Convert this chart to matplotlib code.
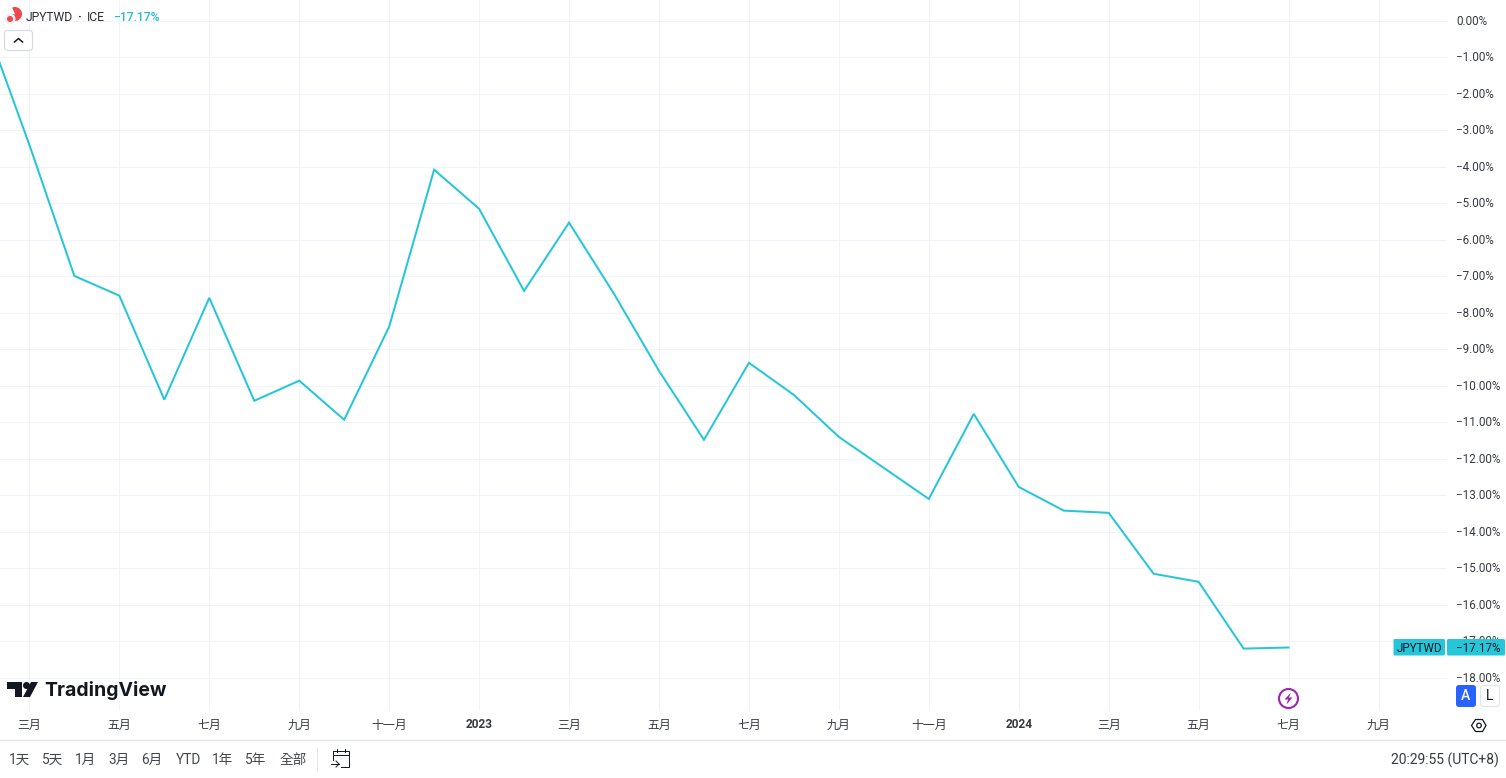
import matplotlib
matplotlib.use('Agg')
import matplotlib.pyplot as plt
from matplotlib.patches import Circle, FancyBboxPatch, Polygon, Wedge

plt.rcParams['font.family'] = ['Roboto', 'Noto Sans CJK TC', 'DejaVu Sans']

# monthly change, feb 2022 to jul 2024 (month 0 = mar 2022)
months = list(range(-1, 29))
change = [0.00, -3.40, -6.99, -7.53, -10.38, -7.59, -10.41, -9.86, -10.93, -8.38,
          -4.08, -5.15, -7.40, -5.53, -7.48, -9.59, -11.48, -9.37, -10.25, -11.40,
          -12.25, -13.10, -10.77, -12.77, -13.42, -13.48, -15.15, -15.37, -17.20, -17.17]

x_ticks = [0, 2, 4, 6, 8, 10, 12, 14, 16, 18, 20, 22, 24, 26, 28, 30]
x_labels = ['三月', '五月', '七月', '九月', '十一月', '2023', '三月', '五月', '七月', '九月',
            '十一月', '2024', '三月', '五月', '七月', '九月']
y_ticks = list(range(0, -19, -1))
range_buttons = ['1天', '5天', '1月', '3月', '6月', 'YTD', '1年', '5年', '全部']
button_x = [20, 53, 86, 119, 152, 188, 223, 256, 293]

LINE = '#26c6da'
TEXT = '#131722'
GRID = '#f0f3fa'
W, H = 1506, 778

fig = plt.figure(figsize=(W / 100, H / 100), dpi=100, facecolor='white')

# chart pane, 0..1447 px wide and 0..710 px high
ax = fig.add_axes([0, 1 - 710 / H, 1447 / W, 710 / H])
px_month = 44.97
px_pct = 36.5
ax.set_xlim(-29.4 / px_month, (1447 - 29.4) / px_month)
ax.set_ylim(-(710 - 20.8) / px_pct, 20.8 / px_pct)
for s in ax.spines.values():
    s.set_visible(False)
ax.set_xticks(x_ticks)
ax.set_yticks(y_ticks)
ax.tick_params(length=0, labelleft=False, labelbottom=False)
ax.grid(color=GRID, linewidth=0.72)
ax.set_axisbelow(True)
ax.plot(months, change, color=LINE, linewidth=1.45, solid_joinstyle='miter')

# overlay in pixel coordinates for the tradingview chrome
ui = fig.add_axes([0, 0, 1, 1], facecolor='none')
ui.set_xlim(0, W)
ui.set_ylim(H, 0)
ui.axis('off')

to_px = lambda v: 20.8 - v * px_pct
for v in y_ticks:
    label = '0.00%' if v == 0 else '\u2212%d.00%%' % abs(v)
    ui.text(1456.5, to_px(v) + 0.6, label, ha='left', va='center', fontsize=8.4, color=TEXT, alpha=0.85, zorder=2)

# axis labels along the bottom
for m, lab in zip(x_ticks, x_labels):
    bold = lab in ('2023', '2024')
    ui.text(29.4 + m * px_month, 725, lab, ha='center', va='center', fontsize=8.6, color=TEXT,
            alpha=0.85, fontweight='bold' if bold else 'normal')

# last value tags
ui.add_patch(FancyBboxPatch((1393.5, 639), 51.5, 16.5, boxstyle='round,pad=0,rounding_size=1.5', fc=LINE, ec='none', zorder=4))
ui.add_patch(FancyBboxPatch((1447, 639), 58, 16.5, boxstyle='round,pad=0,rounding_size=1.5', fc=LINE, ec='none', zorder=4))
ui.text(1419.5, 648, 'JPYTWD', ha='center', va='center', fontsize=8.4, color=TEXT, zorder=5)
ui.text(1456.5, 648, '\u2212%.2f%%' % abs(change[-1]), ha='left', va='center', fontsize=8.4, color=TEXT, zorder=5)

# legend at top left
ui.add_patch(Wedge((15, 14), 7, -115, 125, fc='#f0484f', ec='none'))
ui.add_patch(Wedge((15, 14), 7, 125, 180, fc='#5b8fd8', ec='none'))
ui.add_patch(Circle((10, 19), 5.5, fc='#eef0f6', ec='none'))
ui.add_patch(Circle((10, 19), 3, fc='#f0484f', ec='none'))
ui.text(26, 17, 'JPYTWD', ha='left', va='center', fontsize=8.7, color=TEXT, alpha=0.9)
ui.text(79, 17, '·', ha='center', va='center', fontsize=9, color=TEXT, alpha=0.9, fontweight='bold')
ui.text(87, 17, 'ICE', ha='left', va='center', fontsize=8.7, color=TEXT, alpha=0.9)
ui.text(113, 17, '\u2212%.2f%%' % abs(change[-1]), ha='left', va='center', fontsize=8.7, color='#1fbfd3', fontweight='medium')
ui.add_patch(FancyBboxPatch((4.5, 30.5), 28, 20, boxstyle='round,pad=0,rounding_size=3', fc='white', ec='#d6d8e4', lw=0.8))
ui.plot([14.5, 18.5, 22.5], [42, 38.5, 42], color=TEXT, lw=1.1)

# logo
ui.add_patch(Polygon([(7, 682), (22, 682), (22, 697), (15, 697), (15, 689), (7, 689)], fc=TEXT, ec='none'))
ui.add_patch(Circle((26.5, 685.5), 3.5, fc=TEXT, ec='none'))
ui.add_patch(Polygon([(31, 682), (38, 682), (30, 697), (23, 697)], fc=TEXT, ec='none'))
ui.text(44, 690, 'TradingView', ha='left', va='center', fontsize=14, color=TEXT, family=['Inter', 'DejaVu Sans'], fontweight='bold')

# lightning marker at jul 2024
ui.add_patch(Circle((1288.5, 698.5), 9.5, fc='white', ec='#9c27b0', lw=1.5))
ui.add_patch(Polygon([(1291, 692.5), (1284.5, 699.5), (1288, 699.5), (1286.5, 704.5), (1292.5, 697.5), (1289, 697.5)], fc='#9c27b0', ec='none'))

# A / L buttons
ui.add_patch(FancyBboxPatch((1456, 685), 20, 22, boxstyle='round,pad=0,rounding_size=3', fc='#2962ff', ec='none', zorder=4))
ui.add_patch(FancyBboxPatch((1480.5, 685.5), 19, 21, boxstyle='round,pad=0,rounding_size=3', fc='white', ec='#e0e3eb', lw=0.8, zorder=4))
ui.text(1466, 696.5, 'A', ha='center', va='center', fontsize=10, color='white', fontweight='medium', zorder=5)
ui.text(1490, 696.5, 'L', ha='center', va='center', fontsize=10, color=TEXT, zorder=5)

# settings icon
ui.add_patch(Polygon([(1471.5, 725.5), (1475.5, 719.5), (1482.5, 719.5), (1486, 725.5), (1482.5, 731.5), (1475.5, 731.5)],
                     fc='white', ec=TEXT, lw=0.9))
ui.add_patch(Circle((1479, 725.5), 2.3, fc='white', ec=TEXT, lw=0.9))

# bottom toolbar
ui.plot([0, W], [739.5, 739.5], color='#e0e3eb', lw=0.9)
for bx, lab in zip(button_x, range_buttons):
    ui.text(bx, 760, lab, ha='center', va='center', fontsize=9.8, color=TEXT, alpha=0.8)
ui.plot([317.5, 317.5], [748, 770], color='#e0e3eb', lw=0.72)
ui.plot([333, 333, 349, 349, 341], [760, 751, 751, 766.5, 766.5], color=TEXT, lw=0.7)
ui.plot([333, 349], [755, 755], color=TEXT, lw=0.7)
ui.plot([337, 337], [749, 752], color=TEXT, lw=0.7)
ui.plot([345, 345], [749, 752], color=TEXT, lw=0.7)
ui.plot([331, 339], [764, 764], color=TEXT, lw=0.7)
ui.plot([336, 339, 336], [761, 764, 767], color=TEXT, lw=0.7)
ui.text(1499, 760, '20:29:55 (UTC+8)', ha='right', va='center', fontsize=10, color=TEXT, alpha=0.85)

fig.savefig('out.png', dpi=100)
